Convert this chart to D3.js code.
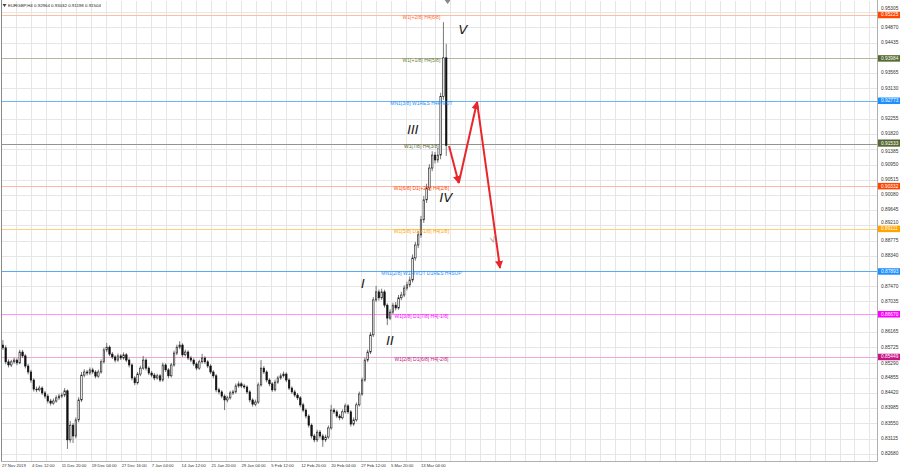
<!DOCTYPE html>
<html><head><meta charset="utf-8">
<script src="https://cdn.jsdelivr.net/npm/d3@7/dist/d3.min.js"></script>
<style>
body{margin:0;background:#fff;}
svg{display:block;font-family:"Liberation Sans",Arial,sans-serif;}
</style>
</head><body>
<svg id="chart" width="900" height="470"></svg>
<script>
// ---------------- DATA ----------------
const symbolTitle = "EURGBP,H4  0.92964 0.93032 0.91198 0.91504";
const barsPerCandle = 3;   // each drawn candle groups three H4 bars
const opens = [
0.8579,0.8571,0.8531,0.8522,0.8531,0.8536,0.8528,0.8559,0.8548,0.8519,
0.8502,0.8479,0.8453,0.8451,0.8456,0.8442,0.8433,0.8419,0.8413,0.8419,
0.8428,0.8433,0.8436,0.8448,0.8308,0.8350,0.8319,0.8365,0.8422,0.8493,
0.8502,0.8499,0.8508,0.8502,0.8490,0.8502,0.8531,0.8565,0.8573,0.8553,
0.8545,0.8536,0.8548,0.8542,0.8551,0.8536,0.8522,0.8485,0.8471,0.8496,
0.8513,0.8536,0.8513,0.8499,0.8493,0.8485,0.8491,0.8479,0.8522,0.8508,
0.8491,0.8522,0.8556,0.8573,0.8579,0.8551,0.8559,0.8542,0.8536,0.8525,
0.8513,0.8531,0.8542,0.8531,0.8519,0.8502,0.8491,0.8451,0.8445,0.8433,
0.8422,0.8428,0.8442,0.8445,0.8462,0.8468,0.8462,0.8459,0.8445,0.8422,
0.8410,0.8416,0.8465,0.8513,0.8502,0.8479,0.8468,0.8451,0.8473,0.8485,
0.8491,0.8496,0.8479,0.8456,0.8445,0.8436,0.8428,0.8408,0.8393,0.8376,
0.8350,0.8319,0.8308,0.8330,0.8319,0.8308,0.8316,0.8342,0.8393,0.8388,
0.8376,0.8371,0.8388,0.8405,0.8388,0.8353,0.8365,0.8408,0.8439,0.8479,
0.8536,0.8559,0.8608,0.8708,0.8731,0.8714,0.8731,0.8693,0.8656,0.8673,
0.8693,0.8685,0.8714,0.8722,0.8742,0.8751,0.8765,0.8828,0.8865,0.8894,
0.8937,0.8994,0.9028,0.9085,0.9122,0.9108,0.9122,0.9290,0.9400];
const highs = [
0.8593,0.8578,0.8538,0.8537,0.8543,0.8541,0.8566,0.8565,0.8553,0.8525,
0.8508,0.8484,0.8460,0.8463,0.8461,0.8448,0.8439,0.8425,0.8426,0.8435,
0.8440,0.8443,0.8456,0.8452,0.8362,0.8356,0.8372,0.8430,0.8502,0.8510,
0.8508,0.8515,0.8514,0.8507,0.8509,0.8538,0.8572,0.8585,0.8578,0.8559,
0.8550,0.8555,0.8553,0.8558,0.8556,0.8541,0.8527,0.8490,0.8502,0.8520,
0.8548,0.8541,0.8518,0.8505,0.8499,0.8497,0.8496,0.8529,0.8527,0.8513,
0.8528,0.8563,0.8580,0.8590,0.8584,0.8566,0.8564,0.8548,0.8541,0.8530,
0.8537,0.8554,0.8547,0.8536,0.8524,0.8507,0.8496,0.8457,0.8450,0.8438,
0.8434,0.8448,0.8451,0.8469,0.8475,0.8473,0.8468,0.8464,0.8450,0.8427,
0.8423,0.8472,0.8536,0.8519,0.8507,0.8484,0.8473,0.8480,0.8491,0.8498,
0.8503,0.8501,0.8484,0.8461,0.8451,0.8442,0.8433,0.8414,0.8398,0.8381,
0.8355,0.8325,0.8337,0.8336,0.8325,0.8323,0.8349,0.8408,0.8399,0.8394,
0.8382,0.8395,0.8412,0.8410,0.8393,0.8372,0.8415,0.8446,0.8486,0.8543,
0.8566,0.8616,0.8716,0.8748,0.8738,0.8740,0.8737,0.8698,0.8681,0.8700,
0.8702,0.8722,0.8731,0.8750,0.8760,0.8775,0.8838,0.8874,0.8905,0.8948,
0.9005,0.9040,0.9096,0.9133,0.9131,0.9142,0.9300,0.9502,0.9440];
const lows = [
0.8565,0.8524,0.8515,0.8516,0.8526,0.8521,0.8524,0.8542,0.8512,0.8495,
0.8471,0.8446,0.8444,0.8446,0.8436,0.8426,0.8412,0.8406,0.8408,0.8414,
0.8422,0.8427,0.8430,0.8282,0.8300,0.8299,0.8312,0.8358,0.8416,0.8487,
0.8492,0.8493,0.8496,0.8484,0.8485,0.8497,0.8526,0.8559,0.8547,0.8539,
0.8529,0.8531,0.8536,0.8537,0.8530,0.8515,0.8478,0.8464,0.8466,0.8490,
0.8508,0.8506,0.8493,0.8487,0.8478,0.8480,0.8473,0.8474,0.8502,0.8484,
0.8486,0.8517,0.8550,0.8567,0.8545,0.8546,0.8536,0.8530,0.8519,0.8507,
0.8508,0.8526,0.8525,0.8513,0.8496,0.8484,0.8444,0.8438,0.8427,0.8393,
0.8415,0.8423,0.8436,0.8440,0.8457,0.8456,0.8453,0.8439,0.8415,0.8403,
0.8404,0.8411,0.8460,0.8496,0.8472,0.8461,0.8445,0.8446,0.8468,0.8480,
0.8486,0.8473,0.8450,0.8439,0.8430,0.8422,0.8401,0.8387,0.8369,0.8343,
0.8312,0.8301,0.8302,0.8312,0.8288,0.8302,0.8311,0.8337,0.8382,0.8370,
0.8364,0.8366,0.8383,0.8382,0.8346,0.8348,0.8360,0.8403,0.8434,0.8474,
0.8530,0.8553,0.8602,0.8702,0.8706,0.8708,0.8686,0.8636,0.8650,0.8667,
0.8678,0.8680,0.8707,0.8716,0.8735,0.8744,0.8758,0.8820,0.8856,0.8886,
0.8928,0.8985,0.9020,0.9076,0.9098,0.9100,0.9110,0.9280,0.9120];
const closes = [
0.8571,0.8531,0.8522,0.8531,0.8536,0.8528,0.8559,0.8548,0.8519,0.8502,
0.8479,0.8453,0.8451,0.8456,0.8442,0.8433,0.8419,0.8413,0.8419,0.8428,
0.8433,0.8436,0.8448,0.8308,0.8350,0.8319,0.8365,0.8422,0.8493,0.8502,
0.8499,0.8508,0.8502,0.8490,0.8502,0.8531,0.8565,0.8573,0.8553,0.8545,
0.8536,0.8548,0.8542,0.8551,0.8536,0.8522,0.8485,0.8471,0.8496,0.8513,
0.8536,0.8513,0.8499,0.8493,0.8485,0.8491,0.8479,0.8522,0.8508,0.8491,
0.8522,0.8556,0.8573,0.8579,0.8551,0.8559,0.8542,0.8536,0.8525,0.8513,
0.8531,0.8542,0.8531,0.8519,0.8502,0.8491,0.8451,0.8445,0.8433,0.8422,
0.8428,0.8442,0.8445,0.8462,0.8468,0.8462,0.8459,0.8445,0.8422,0.8410,
0.8416,0.8465,0.8513,0.8502,0.8479,0.8468,0.8451,0.8473,0.8485,0.8491,
0.8496,0.8479,0.8456,0.8445,0.8436,0.8428,0.8408,0.8393,0.8376,0.8350,
0.8319,0.8308,0.8330,0.8319,0.8308,0.8316,0.8342,0.8393,0.8388,0.8376,
0.8371,0.8388,0.8405,0.8388,0.8353,0.8365,0.8408,0.8439,0.8479,0.8536,
0.8559,0.8608,0.8708,0.8731,0.8714,0.8731,0.8693,0.8656,0.8673,0.8693,
0.8685,0.8714,0.8722,0.8742,0.8751,0.8765,0.8828,0.8865,0.8894,0.8937,
0.8994,0.9028,0.9085,0.9122,0.9108,0.9122,0.9290,0.9400,0.9150];

const dateLabels = ["27 Nov 2019","4 Dec 12:00","11 Dec 20:00","19 Dec 04:00","27 Dec 16:00",
  "7 Jan 04:00","14 Jan 12:00","21 Jan 20:00","29 Jan 04:00","5 Feb 12:00",
  "12 Feb 20:00","20 Feb 04:00","27 Feb 12:00","5 Mar 20:00","13 Mar 04:00"];
const barsPerDateLabel = 32;
const barsPerGridLine = 16;
const totalBarsInView = 936;

const priceTickLabels = ["0.95305","0.94870","0.94435","0.93565","0.93130",
  "0.92255","0.91820","0.91385","0.90950","0.90515","0.90080","0.89645","0.89210","0.88775",
  "0.88340","0.87470","0.87035","0.86165","0.85725","0.85290","0.84855",
  "0.84420","0.83985","0.83550","0.83115","0.82680"];

const levelPrices = [0.95225,0.93984,0.92773,0.91533,0.90332,0.89111,0.87893,0.86670,0.85449];
const levelTexts = ["W1[+2/8] H4[6/8]","W1[+1/8] H4[5/8]","MN1[3/8] W1RES H4PIVOT","W1[7/8] H4[3/8]",
  "W1[6/8] D1[+2/8] H4[2/8]","W1[5/8] D1[+1/8] H4[1/8]","MN1[2/8] W1PIVOT D1RES H4SUP",
  "W1[3/8] D1[7/8] H4[-1/8]","W1[2/8] D1[6/8] H4[-2/8]"];
const levelTextColors = ["#ff6a33","#6b7f3a","#1e90ff","#556b2f","#ff4500","#ffa500","#1e90ff","#ff00ff","#c71585"];
const levelLineColors = ["#ffbf9f","#b3b89f","#6cb4f5","#939393","#ffb8a8","#ffcf80","#5aaaf5","#ff90ff","#f2a8d2"];
const levelBoxColors = ["#ff4500","#556b2f","#1e90ff","#556b2f","#ff4500","#ffa500","#1e90ff","#ff00ff","#c71585"];
const bidPrice = 0.91504;

const waveLabels = ["I","II","III","IV","V"];
const waveBars = [386.5,415.4,439.9,475.2,493.4];
const wavePrices = [0.8753,0.8590,0.9191,0.8997,0.9477];

const forecastBars = [478.5,488.9,508.4,533.0];
const forecastPrices = [0.9148,0.9042,0.9274,0.8799];
const markerBar = 525.5, markerPrice = 0.8879;

// ---------------- DRAW ----------------
const W = 900, H = 470;
const plot = {left:1, right:877, top:1, bottom:461};
const svg = d3.select("#chart");
svg.append("rect").attr("width",W).attr("height",H).attr("fill","#fff");

const x = d3.scaleLinear().domain([0,totalBarsInView]).range([1.5, 1.5+totalBarsInView*0.9353]);
const y = d3.scaleLinear().domain([0.82475,0.95625]).range([plot.bottom, plot.top]);
const crisp = v => Math.round(v)+0.5;

const g = svg.append("g");

// grid
const gridColor = "#e6e6e6";
g.selectAll("line.vg").data(d3.range(barsPerGridLine, totalBarsInView, barsPerGridLine))
  .enter().append("line").attr("class","vg")
  .attr("x1",d=>crisp(x(d))).attr("x2",d=>crisp(x(d)))
  .attr("y1",plot.top).attr("y2",plot.bottom)
  .attr("stroke",gridColor).attr("stroke-width",1);
g.selectAll("line.hg").data(priceTickLabels.map(Number))
  .enter().append("line").attr("class","hg")
  .attr("x1",plot.left).attr("x2",plot.right)
  .attr("y1",d=>crisp(y(d))).attr("y2",d=>crisp(y(d)))
  .attr("stroke",gridColor).attr("stroke-width",1);

// level lines
g.selectAll("line.lvl").data(levelPrices).enter().append("line").attr("class","lvl")
  .attr("x1",plot.left).attr("x2",plot.right)
  .attr("y1",d=>crisp(y(d))).attr("y2",d=>crisp(y(d)))
  .attr("stroke",(d,i)=>levelLineColors[i]).attr("stroke-width",1);

// candles
const candles = closes.map((c,i)=>({o:opens[i],h:highs[i],l:lows[i],c:c,
  xc:x(i*barsPerCandle+barsPerCandle/2)}));
const bodyW = 1.5;
const cg = g.append("g");
cg.selectAll("line.wick").data(candles).enter().append("line")
  .attr("x1",d=>d.xc).attr("x2",d=>d.xc)
  .attr("y1",d=>y(d.h)).attr("y2",d=>y(d.l))
  .attr("stroke","#555").attr("stroke-width",0.8);
cg.selectAll("rect.body").data(candles).enter().append("rect")
  .attr("x",d=>d.xc-bodyW/2).attr("width",bodyW)
  .attr("y",d=>y(Math.max(d.o,d.c)))
  .attr("height",d=>Math.max(0.8, Math.abs(y(d.o)-y(d.c))))
  .attr("fill",d=>d.c>=d.o ? "#fff" : "#111")
  .attr("stroke","#111").attr("stroke-width",0.6);

// level labels
g.selectAll("text.lvlt").data(levelPrices).enter().append("text")
  .attr("x",x(449)).attr("y",d=>y(d)+2.6)
  .attr("text-anchor","middle").attr("dominant-baseline","middle")
  .attr("font-size",5).attr("fill",(d,i)=>levelTextColors[i])
  .text((d,i)=>levelTexts[i]);

// forecast arrows
const red = "#e8262b";
svg.append("defs").append("marker").attr("id","ah")
  .attr("viewBox","0 0 10 10").attr("refX",9).attr("refY",5)
  .attr("markerWidth",4).attr("markerHeight",4).attr("orient","auto")
  .append("path").attr("d","M0,0 L10,5 L0,10 z").attr("fill",red);
const segs = d3.range(forecastBars.length-1).map(i=>[i,i+1]);
g.selectAll("line.fc").data(segs).enter().append("line")
  .attr("x1",d=>x(forecastBars[d[0]])).attr("y1",d=>y(forecastPrices[d[0]]))
  .attr("x2",d=>x(forecastBars[d[1]])).attr("y2",d=>y(forecastPrices[d[1]]))
  .attr("stroke",red).attr("stroke-width",2).attr("marker-end","url(#ah)");

// wave labels
g.selectAll("text.wave").data(waveLabels).enter().append("text")
  .attr("x",(d,i)=>x(waveBars[i])).attr("y",(d,i)=>y(wavePrices[i]))
  .attr("text-anchor","middle").attr("dominant-baseline","middle")
  .attr("font-size",13).attr("font-style","italic").attr("fill","#1a1a1a")
  .attr("font-family","'DejaVu Sans',sans-serif").attr("font-weight",300)
  .text(d=>d);
g.append("text").attr("transform",`translate(${x(markerBar)},${y(markerPrice)}) rotate(-25)`)
  .attr("text-anchor","middle").attr("dominant-baseline","middle")
  .attr("font-size",8).attr("font-style","italic").attr("fill","#9a9a9a").text("V");

// frame
svg.append("line").attr("x1",plot.left+0.5).attr("x2",plot.left+0.5).attr("y1",0).attr("y2",plot.bottom)
  .attr("stroke","#8a8a8a");
svg.append("line").attr("x1",plot.right+0.5).attr("x2",plot.right+0.5).attr("y1",0).attr("y2",plot.bottom+0.5)
  .attr("stroke","#b0b0b0");
svg.append("line").attr("x1",plot.left).attr("x2",plot.right+0.5).attr("y1",plot.bottom+0.5).attr("y2",plot.bottom+0.5)
  .attr("stroke","#b0b0b0");

// chart shift marker
const sx = x(closes.length*barsPerCandle);
svg.append("path").attr("d",`M${sx-3},0 L${sx+3},0 L${sx},4 Z`).attr("fill","#888");

// price axis labels (nudged clear of the level boxes)
const boxH = 6.5;
const tickY = v => {
  let yy = y(v);
  levelPrices.concat([bidPrice]).forEach(p => {
    const dy = yy - y(p);
    if (Math.abs(dy) < boxH) yy = y(p) + Math.sign(dy) * boxH;
  });
  return yy;
};
svg.selectAll("text.pt").data(priceTickLabels).enter().append("text")
  .attr("x",881).attr("y",d=>tickY(+d)).attr("dominant-baseline","middle")
  .attr("font-size",4.8).attr("fill","#333").text(d=>d);

// level price boxes
svg.append("rect").attr("x",878).attr("y",y(bidPrice)-5.5).attr("width",22).attr("height",6.5).attr("fill","#111");
svg.selectAll("rect.lb").data(levelPrices).enter().append("rect")
  .attr("x",878).attr("y",(d,i)=>y(d)-3.25-(i===3?0.8:0)).attr("width",22).attr("height",6.5)
  .attr("fill",(d,i)=>levelBoxColors[i]);
svg.selectAll("text.lbt").data(levelPrices).enter().append("text")
  .attr("x",881).attr("y",(d,i)=>y(d)+0.2-(i===3?0.8:0)).attr("dominant-baseline","middle")
  .attr("font-size",4.8).attr("fill","#fff").text(d=>d.toFixed(5));

// date labels
svg.selectAll("text.dt").data(dateLabels).enter().append("text")
  .attr("x",(d,i)=>x(i*barsPerDateLabel)+0.5).attr("y",465.5)
  .attr("dominant-baseline","middle").attr("font-size",4.2).attr("fill","#333")
  .text(d=>d);

// header
svg.append("path").attr("d","M2.5,4 L6.5,4 L4.5,7 Z").attr("fill","#444");
svg.append("text").attr("x",8).attr("y",5.8).attr("dominant-baseline","middle")
  .attr("font-size",4.4).attr("fill","#222").text(symbolTitle);
</script>
</body></html>
